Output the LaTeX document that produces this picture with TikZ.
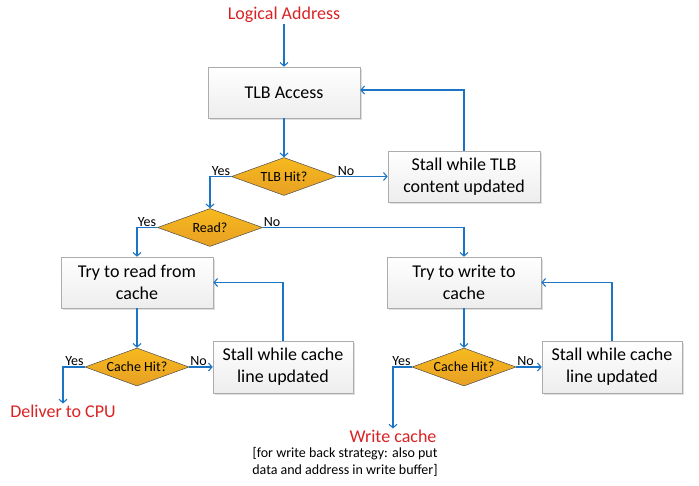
\documentclass[tikz,border=0pt]{standalone}
\usepackage{fontspec}
\setmainfont{Carlito}
\usetikzlibrary{shapes.geometric,arrows.meta,shadows}
\definecolor{flowblue}{RGB}{28,117,196}
\definecolor{addrred}{RGB}{218,34,36}
\definecolor{hitgold}{RGB}{244,168,38}
\newcommand{\bigtxt}{\fontsize{18}{22}\selectfont}
\newcommand{\smalltxt}{\fontsize{14}{17}\selectfont}

\begin{document}
\begin{tikzpicture}[x=1pt,y=-1pt]
                        \tikzstyle{stepbox}=[rectangle, draw=gray!65, line width=0.6pt, top color=white, bottom color=gray!14, drop shadow={shadow xshift=1.5pt, shadow yshift=-1.5pt, opacity=0.25}, align=center, font=\bigtxt, inner sep=2pt]
                        \tikzstyle{hit}=[diamond, draw=black!70, line width=0.5pt, top color=hitgold!80!yellow, bottom color=hitgold!95!black, font=\smalltxt, inner sep=0pt, aspect=2.8, minimum width=105pt, minimum height=38pt]
                        \tikzstyle{redlabel}=[text=addrred, font=\bigtxt, inner sep=1pt]
                        \tikzstyle{flow}=[draw=flowblue, line width=1.1pt, -{Straight Barb[length=3.5pt,width=8pt]}]
                        \tikzstyle{answer}=[font=\smalltxt, inner sep=1pt]
                        \useasboundingbox (0,0) rectangle (699,485);
                        \node[redlabel] (logical) at (284,15) {Logical Address};
                        \node[stepbox, minimum width=152pt, minimum height=51pt] (tlb) at (284,92.5) {TLB Access};
                        \node[hit] (tlbhit) at (284,176.5) {TLB Hit?};
                        \node[stepbox, minimum width=152pt, minimum height=51pt] (stalltlb) at (464,176.5) {Stall while TLB\\content updated};
                        \node[hit] (read) at (210,227.5) {Read?};
                        \node[stepbox, minimum width=152pt, minimum height=51pt] (readbox) at (137,282.5) {Try to read from\\cache};
                        \node[stepbox, minimum width=154pt, minimum height=51pt] (writebox) at (464,282.5) {Try to write to\\cache};
                        \node[hit, minimum width=104pt] (hitr) at (137,367) {Cache Hit?};
                        \node[hit, minimum width=104pt] (hitw) at (464,367) {Cache Hit?};
                        \node[stepbox, minimum width=140pt, minimum height=52pt] (stallr) at (283,367) {Stall while cache\\line updated};
                        \node[stepbox, minimum width=140pt, minimum height=52pt] (stallw) at (612,367) {Stall while cache\\line updated};
                        \node[redlabel] (cpu) at (63,411) {Deliver to CPU};
                        \node[redlabel] (wcache) at (393,436) {Write cache};
                        \node[font=\smalltxt, align=center, inner sep=0pt] (wbnote) at (345,461.5) {[for write back strategy: also put\\data and address in write buffer]};
                        \draw[flow] (logical) -- (tlb);
                        \draw[flow] (tlb) -- (tlbhit);
                        \draw[flow] (tlbhit.west) -| (read.north);
                        \draw[flow] (tlbhit.east) -- (stalltlb.west);
                        \draw[flow] (stalltlb.north) |- ([yshift=2.5pt]tlb.east);
                        \draw[flow] (read.west) -| (readbox.north);
                        \draw[flow] (read.east) -| (writebox.north);
                        \draw[flow] (readbox) -- (hitr);
                        \draw[flow] (writebox) -- (hitw);
                        \draw[flow] (hitr.west) -| (cpu.north);
                        \draw[flow] (hitr.east) -- (stallr.west);
                        \draw[flow] (stallr.north) |- (readbox.east);
                        \draw[flow] (hitw.west) -| (wcache.north);
                        \draw[flow] (hitw.east) -- (stallw.west);
                        \draw[flow] (stallw.north) |- (writebox.east);
                        \node[answer, anchor=south east] at (tlbhit.west) {Yes};
                        \node[answer, anchor=south west] at (tlbhit.east) {No};
                        \node[answer, anchor=south east] at (read.west) {Yes};
                        \node[answer, anchor=south west] at (read.east) {No};
                        \node[answer, anchor=south east] at (hitr.west) {Yes};
                        \node[answer, anchor=south west] at (hitr.east) {No};
                        \node[answer, anchor=south east] at (hitw.west) {Yes};
                        \node[answer, anchor=south west] at (hitw.east) {No};
\end{tikzpicture}
\end{document}
